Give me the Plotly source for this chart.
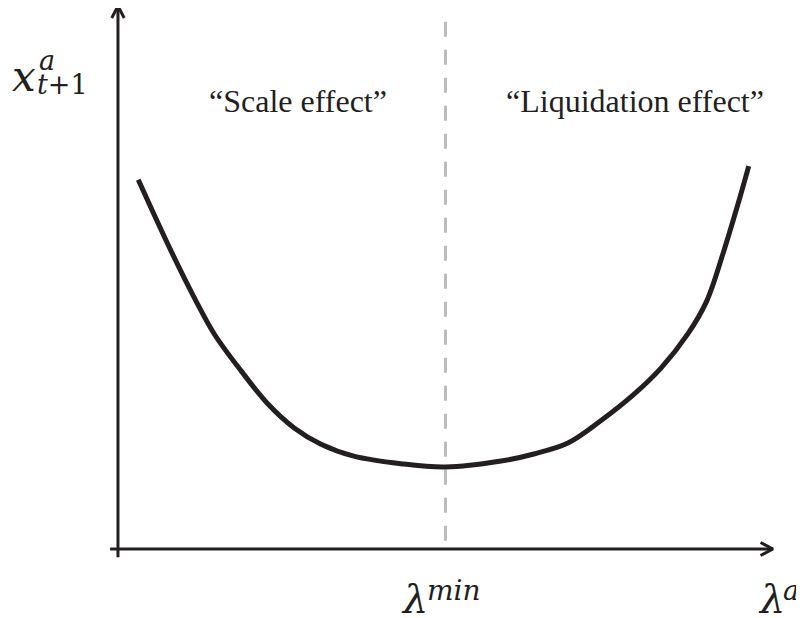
import plotly.graph_objects as go

# curve (lambda^a on x, x^a_{t+1} on y; origin at the axes corner)
lam = [0.31, 0.81, 1.19, 1.47, 1.88, 2.29, 2.69, 3.10, 3.60, 4.32, 5.00,
       5.85, 6.35, 6.87, 7.37, 7.88, 8.29, 8.70, 8.99, 9.25, 9.48, 9.63]
xa = [6.80, 5.49, 4.57, 3.96, 3.28, 2.67, 2.23, 1.93, 1.71, 1.57, 1.51,
      1.62, 1.75, 1.95, 2.36, 2.85, 3.33, 3.96, 4.57, 5.49, 6.41, 7.05]
lam_min = 5.0
region_labels = ['\u201cScale effect\u201d', '\u201cLiquidation effect\u201d']
region_x = [2.75, 7.89]

X_END, Y_END = 10.0, 10.0
ink = '#231f20'
math_font = 'DejaVu Serif'

fig = go.Figure()

# dashed line at lambda min
fig.add_trace(go.Scatter(x=[lam_min, lam_min], y=[0.15, 9.85], mode='lines',
                         line=dict(color='#bdbdbd', width=3, dash='15px,13px'),
                         hoverinfo='skip'))

# axes
fig.add_trace(go.Scatter(x=[-0.12, X_END], y=[0, 0], mode='lines',
                         line=dict(color=ink, width=3), hoverinfo='skip'))
fig.add_trace(go.Scatter(x=[0, 0], y=[-0.15, Y_END], mode='lines',
                         line=dict(color=ink, width=3), hoverinfo='skip'))
# arrow heads
fig.add_trace(go.Scatter(x=[X_END - 0.19, X_END, X_END - 0.19], y=[0.12, 0, -0.12],
                         mode='lines', line=dict(color=ink, width=3), hoverinfo='skip'))
fig.add_trace(go.Scatter(x=[-0.095, 0, 0.095], y=[Y_END - 0.22, Y_END, Y_END - 0.22],
                         mode='lines', line=dict(color=ink, width=3), hoverinfo='skip'))

# the curve
fig.add_trace(go.Scatter(x=lam, y=xa, mode='lines',
                         line=dict(color=ink, width=5, shape='spline', smoothing=1.0),
                         hoverinfo='skip'))

for txt, x in zip(region_labels, region_x):
    fig.add_annotation(x=x, y=8.25, text=txt, showarrow=False,
                       font=dict(family='Liberation Serif', size=32, color=ink))

# axis labels
fig.add_annotation(x=-1.435, y=8.71, text='<i>x</i>', showarrow=False,
                   font=dict(family=math_font, size=42, color=ink))
fig.add_annotation(x=-1.08, y=9.0, text='<i>a</i>', showarrow=False,
                   font=dict(family=math_font, size=27, color=ink))
fig.add_annotation(x=-0.84, y=8.55, text='<i>t</i>+1', showarrow=False,
                   font=dict(family=math_font, size=27, color=ink))

fig.add_annotation(x=4.52, y=-0.92, text='<i>\u03bb</i>', showarrow=False,
                   font=dict(family=math_font, size=40, color=ink))
fig.add_annotation(x=4.68, y=-0.77, text='<i>min</i>', xanchor='left', showarrow=False,
                   font=dict(family=math_font, size=28, color=ink))
fig.add_annotation(x=9.98, y=-0.92, text='<i>\u03bb</i>', showarrow=False,
                   font=dict(family=math_font, size=40, color=ink))
fig.add_annotation(x=10.12, y=-0.77, text='<i>a</i>', xanchor='left', showarrow=False,
                   font=dict(family=math_font, size=27, color=ink))

fig.update_layout(width=804, height=618, margin=dict(l=0, r=0, t=0, b=0),
                  paper_bgcolor='white', plot_bgcolor='white', showlegend=False)
# ranges nudged to offset the page's body margin
fig.update_xaxes(visible=False, range=[-1.679, 10.596])
fig.update_yaxes(visible=False, range=[-1.418, 9.963])

fig.write_html("out.html")
